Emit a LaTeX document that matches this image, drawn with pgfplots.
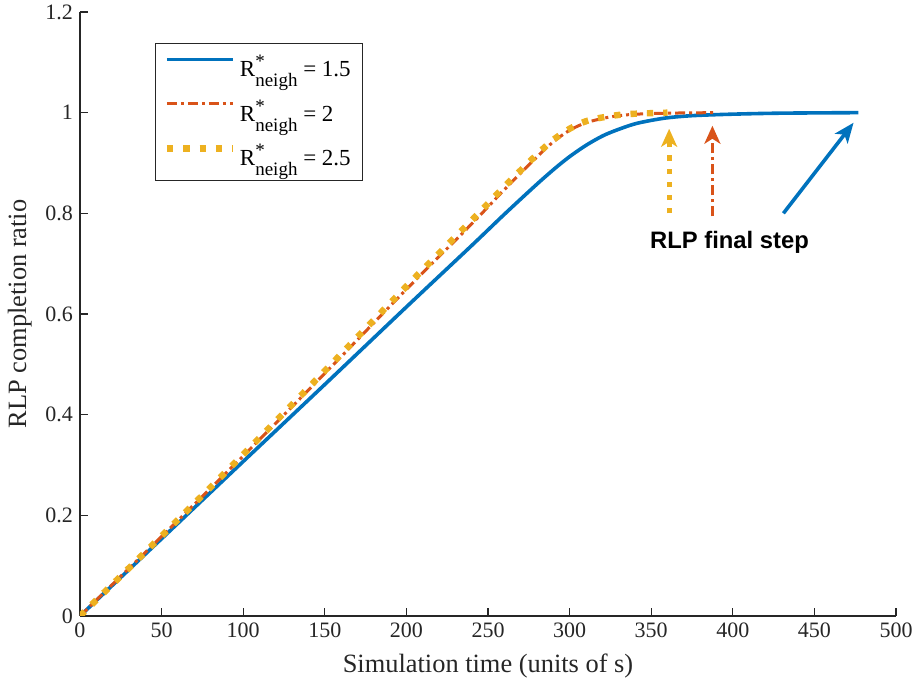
\documentclass[border=0pt]{standalone}
\usepackage{fontspec}
\setmainfont{Liberation Serif}
\newfontfamily\annfont{Liberation Sans}
\usepackage{pgfplots}
\pgfplotsset{compat=1.18}
\usetikzlibrary{arrows.meta}

\definecolor{mblue}{rgb}{0,0.447,0.741}
\definecolor{morange}{rgb}{0.85,0.325,0.098}
\definecolor{myellow}{rgb}{0.929,0.694,0.125}
\definecolor{axgray}{rgb}{0.15,0.15,0.15}

% R^*_neigh, set like MATLAB's tex interpreter
\newcommand{\Rn}{R\rlap{\raisebox{4.5pt}{\fontsize{9.5}{11}\selectfont *}}%
  \raisebox{-5pt}{\fontsize{9.5}{11}\selectfont neigh}}

\begin{document}
\begin{tikzpicture}
\begin{axis}[
    scale only axis,
    width=408pt, height=302pt,
    xmin=0, xmax=500, ymin=0, ymax=1.2,
    axis lines=left,
    axis line style={-, axgray, line width=0.6pt},
    xtick={0,50,100,150,200,250,300,350,400,450,500},
    ytick={0,0.2,0.4,0.6,0.8,1,1.2},
    tick align=inside,
    major tick length=4pt,
    tick style={axgray, line width=0.6pt},
    ticklabel style={font=\fontsize{11}{13}\selectfont, text=axgray},
    /pgf/number format/assume math mode=true,
    label style={font=\fontsize{13.2}{15}\selectfont, text=axgray},
    xlabel style={yshift=-1pt},
    xlabel={Simulation time (units of s)},
    ylabel={RLP completion ratio},
    legend image code/.code={\draw[#1] (0pt,4pt) -- (33pt,4pt);},
    legend style={at={(rel axis cs:0.092,0.949)}, anchor=north west,
        draw=axgray, line width=0.5pt, font=\fontsize{11.5}{13}\selectfont,
        row sep=6pt, inner xsep=4pt, inner ysep=4pt},
    legend cell align=left,
]
\addplot[mblue, line width=1.8pt, smooth]
    coordinates {(0,0) (50,0.1535) (100,0.307) (150,0.46) (200,0.614) (240,0.736)
    (260,0.798) (280,0.858) (292,0.892) (301,0.915) (311,0.937) (321,0.955)
    (331,0.968) (341.5,0.979) (358,0.989) (375,0.994) (400,0.997) (430,0.999) (477,1.0)};
\addlegendentry{\Rn{} = 1.5}

\addplot[morange, line width=1.5pt, smooth,
    dash pattern=on 5pt off 2pt on 1.5pt off 2pt]
    coordinates {(0,0) (50,0.158) (100,0.318) (150,0.482) (200,0.649) (240,0.779)
    (260,0.847) (280,0.912) (290,0.942) (300,0.965) (310,0.980) (321,0.989)
    (330,0.994) (341,0.997) (360,0.999) (388,1.0)};
\addlegendentry{\Rn{} = 2}

\addplot[myellow, line width=3.2pt, smooth,
    dash pattern=on 3.2pt off 5pt]
    coordinates {(0,0) (50,0.159) (100,0.321) (150,0.487) (200,0.655) (240,0.786)
    (260,0.853) (280,0.917) (290,0.946) (300,0.968) (310,0.983) (321,0.991)
    (335,0.997) (360,1.0)};
\addlegendentry{\Rn{} = 2.5}

% annotation arrows
\addplot[myellow, line width=2.6pt, dash pattern=on 2.6pt off 4pt, forget plot,
    -{Stealth[length=9pt, width=8pt, inset=2.5pt]}]
    coordinates {(361,0.80) (361,0.968)};
\addplot[morange, line width=1.5pt, dash pattern=on 5pt off 2pt on 1.5pt off 2pt, forget plot,
    -{Stealth[length=9pt, width=8pt, inset=2.5pt]}]
    coordinates {(387.5,0.794) (387.5,0.974)};
\addplot[mblue, line width=1.8pt, forget plot,
    -{Stealth[length=10pt, width=8pt, inset=2.5pt]}]
    coordinates {(431,0.80) (474,0.98)};
\node[font=\annfont\bfseries\fontsize{11.9}{13}\selectfont, text=black]
    at (axis cs:398,0.742) {RLP final step};
\end{axis}
\pgfresetboundingbox
\path (-40pt,-36.5pt) rectangle (417pt,308pt);
\end{tikzpicture}
\end{document}
